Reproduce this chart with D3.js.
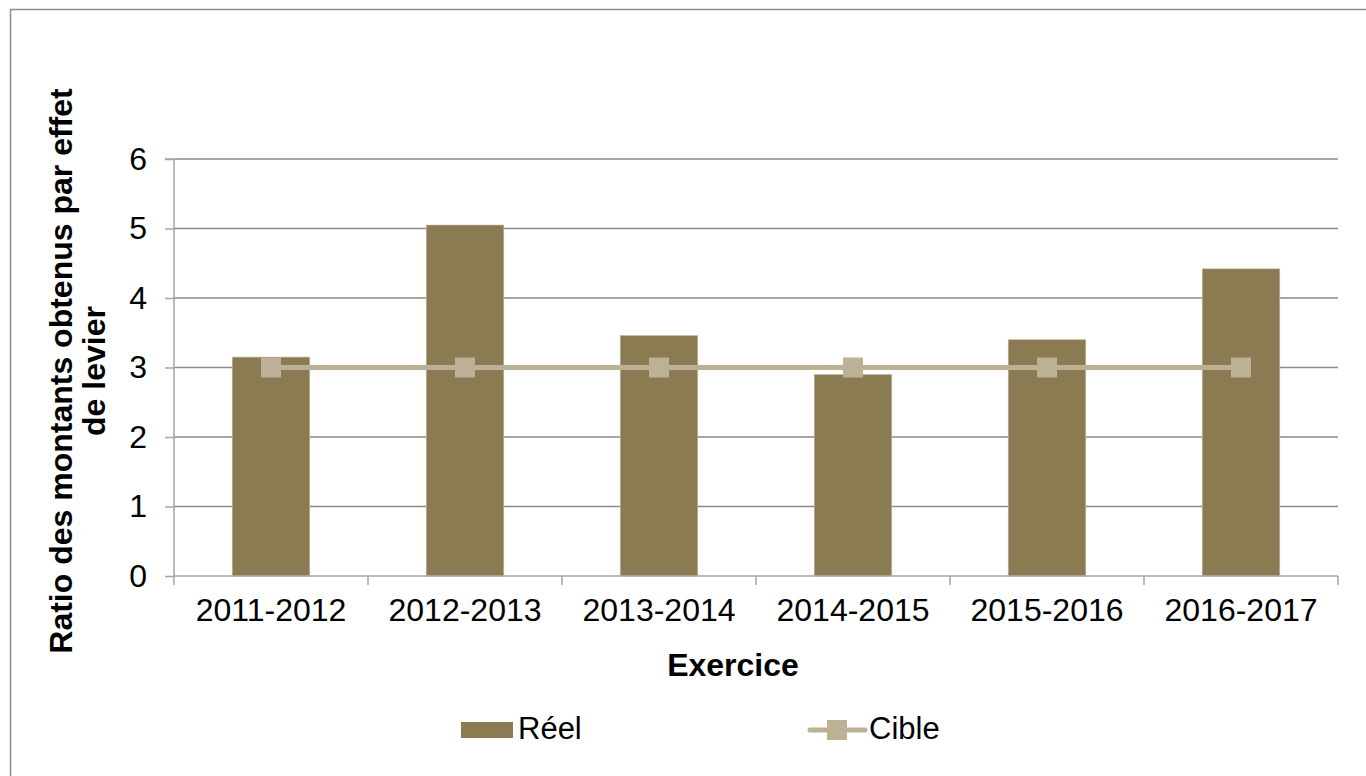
<!DOCTYPE html>
<html>
<head>
<meta charset="utf-8">
<script src="https://cdn.jsdelivr.net/npm/d3@7/dist/d3.min.js"></script>
<style>
html,body{margin:0;padding:0;background:#fff;}
svg{display:block;font-family:"Liberation Sans",Arial,sans-serif;}
</style>
</head>
<body>
<svg id="chart" width="1366" height="776"></svg>
<script>
const categories = ["2011-2012","2012-2013","2013-2014","2014-2015","2015-2016","2016-2017"];
const reel = [3.15, 5.05, 3.46, 2.9, 3.4, 4.42];
const cible = [3, 3, 3, 3, 3, 3];
const yTicks = [0,1,2,3,4,5,6];
const seriesNames = ["Réel","Cible"];
const xTitle = "Exercice";
const yTitleLines = ["Ratio des montants obtenus par effet","de levier"];

const barColor = "#8b7b52", lineColor = "#bcb095";
const svg = d3.select("#chart");
const W = 1366, H = 776;
const m = {left:174, right:1338, top:159, bottom:576};

svg.append("rect").attr("x",10.5).attr("y",9.5).attr("width",W).attr("height",H)
  .attr("fill","none").attr("stroke","#8c8c8c").attr("stroke-width",1.5);

const x = d3.scaleBand().domain(categories).range([m.left,m.right]).paddingInner(0).paddingOuter(0);
const y = d3.scaleLinear().domain([0,6]).range([m.bottom,m.top]);

// gridlines
svg.append("g").selectAll("line").data(yTicks.filter(d=>d>0)).join("line")
  .attr("x1",m.left).attr("x2",m.right).attr("y1",d=>y(d)).attr("y2",d=>y(d))
  .attr("stroke","#8a8a8a").attr("stroke-width",1.6);

// bars
const bw = x.bandwidth()/2.5;
svg.append("g").selectAll("rect").data(categories).join("rect")
  .attr("x",(d)=>x(d)+x.bandwidth()/2-bw/2)
  .attr("width",bw)
  .attr("y",(d,i)=>y(reel[i]))
  .attr("height",(d,i)=>y(0)-y(reel[i]))
  .attr("fill",barColor).attr("stroke","#c9bfa3").attr("stroke-width",0.6);

// y axis
const yAxis = d3.axisLeft(y).tickValues(yTicks).tickSize(9).tickPadding(18).tickFormat(d3.format("d"));
const ga = svg.append("g").attr("transform",`translate(${m.left},0)`).call(yAxis);
ga.select(".domain").attr("stroke","#a6a6a6").attr("stroke-width",1.5).attr("d",`M-9,${m.top}H0V${m.bottom}`);
ga.selectAll(".tick line").attr("stroke","#a6a6a6").attr("stroke-width",1.5);
ga.selectAll("text").attr("font-size",32).attr("fill","#000").attr("font-family","Liberation Sans, Arial, sans-serif");

// x axis
const xAxis = d3.axisBottom(x).tickSize(0).tickPadding(22);
const gx = svg.append("g").attr("transform",`translate(0,${m.bottom})`).call(xAxis);
gx.select(".domain").attr("stroke","#a6a6a6").attr("stroke-width",1.5).attr("d",`M${m.left},0H${m.right}`);
gx.selectAll("text").attr("font-size",32).attr("fill","#000").attr("font-family","Liberation Sans, Arial, sans-serif");
const bounds = categories.map(c=>x(c)).concat([m.right]);
gx.append("g").selectAll("line").data(bounds).join("line")
  .attr("x1",d=>d).attr("x2",d=>d).attr("y1",0).attr("y2",9)
  .attr("stroke","#a6a6a6").attr("stroke-width",1.5);

// cible line
const line = d3.line().x((d,i)=>x(categories[i])+x.bandwidth()/2).y(d=>y(d));
svg.append("path").datum(cible).attr("d",line).attr("fill","none")
  .attr("stroke",lineColor).attr("stroke-width",5);
svg.append("g").selectAll("rect").data(cible).join("rect")
  .attr("x",(d,i)=>x(categories[i])+x.bandwidth()/2-10)
  .attr("y",d=>y(d)-10).attr("width",20).attr("height",20)
  .attr("fill",lineColor);

// axis titles
svg.append("text").attr("x",733).attr("y",676).attr("text-anchor","middle")
  .attr("font-size",32).attr("font-weight","bold").text(xTitle);
const yt = svg.append("text").attr("transform","translate(72,371) rotate(-90)")
  .attr("text-anchor","middle").attr("font-size",32).attr("font-weight","bold");
yTitleLines.forEach((t,i)=>yt.append("tspan").attr("x",0).attr("y",i*33).text(t));

// legend
const lg = svg.append("g");
lg.append("rect").attr("x",461).attr("y",722).attr("width",52).attr("height",16).attr("fill",barColor);
lg.append("text").attr("x",518).attr("y",739).attr("font-size",31).text(seriesNames[0]);
lg.append("line").attr("x1",810).attr("x2",865).attr("y1",730).attr("y2",730)
  .attr("stroke",lineColor).attr("stroke-width",5).attr("stroke-linecap","round");
lg.append("rect").attr("x",827).attr("y",720).attr("width",20).attr("height",20).attr("fill",lineColor);
lg.append("text").attr("x",869).attr("y",739).attr("font-size",31).text(seriesNames[1]);
</script>
</body>
</html>
